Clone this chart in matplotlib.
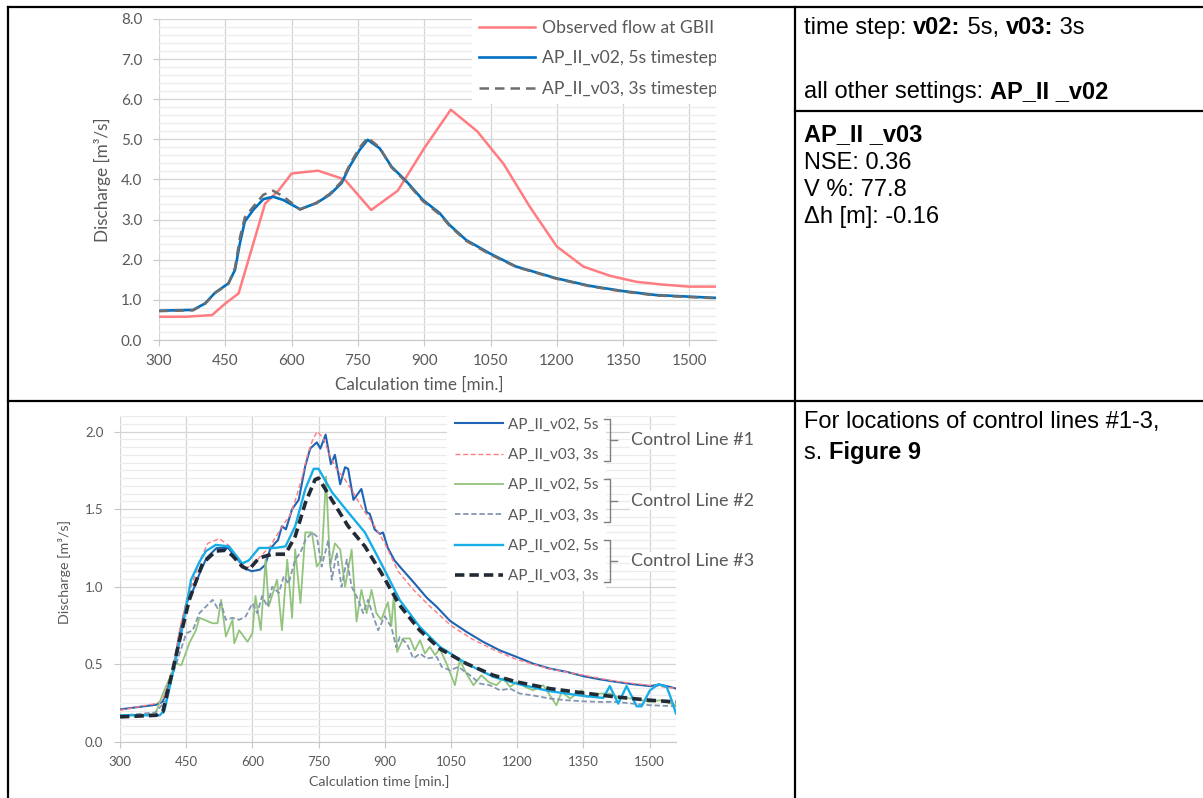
import matplotlib
matplotlib.use("Agg")
import matplotlib.pyplot as plt
from matplotlib.lines import Line2D
from matplotlib.transforms import Bbox, TransformedBbox
from matplotlib.ticker import MultipleLocator, FormatStrFormatter

# ── Data: top chart (discharge at GBII) ──────────────────────────────────────
obs_t = [300, 360, 420, 450, 480, 540, 570, 600, 660, 720, 780, 840, 900, 960,
         1020, 1080, 1140, 1200, 1260, 1320, 1380, 1440, 1500, 1560]
obs_q = [0.58, 0.58, 0.62, 0.91, 1.16, 3.40, 3.72, 4.15, 4.22, 4.00, 3.24, 3.72,
         4.78, 5.74, 5.20, 4.38, 3.30, 2.33, 1.83, 1.60, 1.45, 1.38, 1.33, 1.33]

v02_t = [300, 377, 404, 427, 457, 472, 483, 494, 513, 536, 558, 581, 619, 656,
         686, 713, 731, 754, 772, 799, 826, 860, 897, 935, 957, 995, 1048, 1108,
         1198, 1274, 1349, 1424, 1500, 1560]
v02_q = [0.73, 0.75, 0.91, 1.18, 1.41, 1.75, 2.41, 2.95, 3.24, 3.51, 3.57, 3.49,
         3.26, 3.41, 3.62, 3.91, 4.32, 4.74, 4.99, 4.78, 4.32, 3.95, 3.49, 3.16,
         2.87, 2.49, 2.16, 1.83, 1.54, 1.35, 1.22, 1.12, 1.08, 1.05]
v03_t = v02_t
v03_q = [0.72, 0.74, 0.90, 1.17, 1.40, 1.80, 2.55, 3.05, 3.32, 3.62, 3.72, 3.58,
         3.25, 3.42, 3.64, 3.95, 4.36, 4.80, 5.04, 4.80, 4.30, 3.93, 3.46, 3.13,
         2.85, 2.47, 2.14, 1.82, 1.53, 1.34, 1.21, 1.11, 1.07, 1.04]

# ── Data: bottom chart (control lines) ───────────────────────────────────────
cl1_v02_t = [300, 382, 397, 420, 435, 451, 466, 481, 496, 519, 545, 564, 583, 598,
             617, 629, 640, 651, 658, 667, 676, 690, 705, 720, 731, 746, 754, 766,
             778, 787, 799, 810, 817, 829, 847, 859, 866, 877, 889, 896, 907, 922,
             934, 965, 995, 1018, 1048, 1085, 1123, 1161, 1199, 1236, 1274, 1312,
             1350, 1387, 1425, 1463, 1501, 1523, 1546, 1560]
cl1_v02_q = [0.21, 0.24, 0.26, 0.45, 0.70, 0.895, 0.98, 1.09, 1.185, 1.25, 1.25,
             1.185, 1.12, 1.10, 1.11, 1.14, 1.24, 1.28, 1.30, 1.39, 1.37, 1.50, 1.56,
             1.78, 1.89, 1.93, 1.89, 1.98, 1.79, 1.85, 1.66, 1.77, 1.76, 1.56, 1.63,
             1.48, 1.47, 1.37, 1.34, 1.35, 1.25, 1.17, 1.13, 1.03, 0.93, 0.87, 0.78,
             0.71, 0.645, 0.59, 0.548, 0.505, 0.473, 0.452, 0.424, 0.404, 0.387,
             0.372, 0.36, 0.37, 0.355, 0.344]

cl1_v03_t = [300, 382, 397, 420, 435, 451, 466, 481, 499, 525, 545, 565, 585, 600,
             620, 640, 655, 670, 685, 700, 712, 725, 737, 747, 760, 775, 790, 810,
             830, 850, 875, 900, 930, 965, 1000, 1050, 1100, 1150, 1200, 1275, 1350,
             1425, 1500, 1560]
cl1_v03_q = [0.205, 0.248, 0.27, 0.48, 0.72, 0.92, 1.04, 1.17, 1.28, 1.31, 1.27,
             1.19, 1.12, 1.14, 1.20, 1.26, 1.33, 1.40, 1.46, 1.58, 1.70, 1.85, 1.95,
             2.00, 1.96, 1.85, 1.76, 1.69, 1.60, 1.50, 1.40, 1.28, 1.10, 0.98, 0.88,
             0.75, 0.66, 0.59, 0.53, 0.47, 0.43, 0.39, 0.365, 0.345]

cl2_v02_t = [300, 380, 397, 427, 439, 457, 472, 480, 510, 521, 529, 540, 555, 559,
             570, 589, 600, 607, 619, 630, 637, 656, 667, 679, 690, 697, 709, 720,
             735, 746, 757, 767, 776, 787, 799, 810, 825, 836, 847, 859, 870, 881,
             892, 907, 915, 921, 928, 942, 957, 968, 980, 991, 1002, 1014, 1025,
             1040, 1059, 1070, 1085, 1101, 1119, 1135, 1153, 1168, 1184, 1199, 1218,
             1236, 1259, 1289, 1301, 1320, 1346, 1357, 1387, 1410, 1433, 1463, 1501,
             1523, 1560]
cl2_v02_q = [0.17, 0.18, 0.31, 0.506, 0.495, 0.636, 0.72, 0.80, 0.765, 0.765, 0.916,
             0.68, 0.787, 0.636, 0.72, 0.646, 0.70, 0.94, 0.72, 1.175, 0.873, 1.045,
             0.72, 1.175, 0.80, 1.24, 0.894, 1.35, 1.35, 1.13, 1.175, 1.71, 1.13,
             1.28, 1.24, 1.00, 1.24, 0.776, 0.98, 0.83, 0.98, 0.83, 0.787, 0.90,
             0.75, 0.96, 0.58, 0.667, 0.667, 0.59, 0.656, 0.57, 0.613, 0.56, 0.60,
             0.505, 0.366, 0.527, 0.44, 0.366, 0.43, 0.387, 0.366, 0.41, 0.355,
             0.387, 0.355, 0.333, 0.366, 0.237, 0.323, 0.28, 0.333, 0.29, 0.312,
             0.312, 0.284, 0.28, 0.258, 0.269, 0.237]

cl2_v03_t = [300, 380, 405, 420, 435, 450, 465, 480, 495, 510, 521, 529, 540, 555,
             570, 585, 600, 611, 622, 634, 645, 660, 671, 682, 697, 709, 720, 735,
             746, 757, 772, 780, 791, 802, 814, 825, 840, 851, 862, 874, 885, 900,
             915, 926, 934, 950, 965, 980, 995, 1018, 1029, 1048, 1067, 1082, 1093,
             1116, 1138, 1161, 1184, 1206, 1236, 1274, 1312, 1350, 1387, 1425, 1463,
             1501, 1560]
cl2_v03_q = [0.17, 0.19, 0.27, 0.44, 0.57, 0.70, 0.72, 0.83, 0.873, 0.916, 0.862,
             0.894, 0.787, 0.80, 0.787, 0.81, 0.894, 0.83, 0.94, 0.873, 1.00, 0.96,
             1.067, 1.02, 1.175, 1.22, 1.30, 1.35, 1.325, 1.13, 1.30, 1.045, 1.22,
             1.00, 1.175, 1.00, 0.916, 0.83, 0.916, 0.81, 0.72, 0.81, 0.74, 0.61,
             0.677, 0.634, 0.538, 0.57, 0.538, 0.548, 0.484, 0.462, 0.484, 0.452,
             0.43, 0.376, 0.366, 0.333, 0.344, 0.312, 0.30, 0.28, 0.269, 0.262,
             0.258, 0.258, 0.247, 0.237, 0.23]

cl3_v02_t = [300, 390, 401, 420, 439, 461, 480, 495, 517, 547, 577, 592, 615, 652,
             675, 697, 720, 739, 750, 780, 817, 855, 892, 934, 979, 1025, 1085, 1146,
             1199, 1274, 1350, 1395, 1410, 1429, 1448, 1471, 1482, 1501, 1520, 1539,
             1550, 1560]
cl3_v02_q = [0.172, 0.172, 0.205, 0.45, 0.70, 1.045, 1.16, 1.23, 1.27, 1.26, 1.15,
             1.17, 1.25, 1.25, 1.26, 1.39, 1.63, 1.76, 1.76, 1.61, 1.48, 1.35, 1.15,
             0.914, 0.742, 0.613, 0.505, 0.42, 0.376, 0.327, 0.297, 0.284, 0.36,
             0.247, 0.36, 0.23, 0.23, 0.333, 0.372, 0.355, 0.27, 0.183]

cl3_v03_t = [300, 382, 397, 416, 435, 457, 487, 517, 540, 555, 577, 592, 615, 645,
             675, 697, 720, 742, 750, 780, 817, 855, 892, 934, 979, 1025, 1085, 1146,
             1199, 1274, 1350, 1425, 1501, 1560]
cl3_v03_q = [0.162, 0.172, 0.194, 0.42, 0.657, 0.916, 1.15, 1.23, 1.235, 1.20, 1.13,
             1.11, 1.185, 1.21, 1.21, 1.325, 1.54, 1.69, 1.70, 1.56, 1.39, 1.26, 1.09,
             0.88, 0.72, 0.60, 0.505, 0.43, 0.387, 0.344, 0.316, 0.29, 0.269, 0.258]

X_TICKS = [300, 450, 600, 750, 900, 1050, 1200, 1350, 1500]

# ── Style ────────────────────────────────────────────────────────────────────
W, H = 1203, 798
TXT = "#595959"
plt.rcParams["font.family"] = ["Lato", "DejaVu Sans"]

fig = plt.figure(figsize=(W / 100, H / 100), dpi=100)


def fx(x):
    return x / W


def fy(y):
    return 1 - y / H


def style_axes(ax, ymax, ymajor, yminor, tick_fs):
    for s in ["top", "right", "left"]:
        ax.spines[s].set_visible(False)
    ax.spines["bottom"].set_color("#c8c8c8")
    ax.set_xlim(300, 1560)
    ax.set_ylim(0, ymax)
    ax.set_xticks(X_TICKS)
    ax.yaxis.set_major_locator(MultipleLocator(ymajor))
    ax.yaxis.set_minor_locator(MultipleLocator(yminor))
    ax.yaxis.set_major_formatter(FormatStrFormatter("%.1f"))
    ax.grid(which="major", color="#d4d4d4", lw=0.9)
    ax.grid(which="minor", axis="y", color="#ececec", lw=0.9)
    ax.tick_params(which="major", colors=TXT, color="#c8c8c8", length=4,
                   labelsize=tick_fs)
    ax.tick_params(axis="y", which="major", pad=8)
    ax.tick_params(axis="x", which="major", pad=6)
    ax.tick_params(which="minor", length=0)
    ax.set_axisbelow(True)


# ── Top chart ────────────────────────────────────────────────────────────────
ax1 = fig.add_axes([fx(159), fy(340), (716 - 159) / W, (340 - 19) / H])
style_axes(ax1, 8, 1.0, 0.2, 11)
l_obs, = ax1.plot(obs_t, obs_q, color="#ff7c80", lw=1.8, label="Observed flow at GBII")
l_v02, = ax1.plot(v02_t, v02_q, color="#0070c0", lw=1.9, label="AP_II_v02, 5s timestep")
l_v03, = ax1.plot(v03_t, v03_q, color="#6e6e6e", lw=1.8, ls=(0, (3.8, 2.4)),
                  label="AP_II_v03, 3s timestep")
ax1.set_ylabel("Discharge [m³/s]", fontsize=12.3, color=TXT, va="center")
ax1.yaxis.set_label_coords(-0.102, 0.498)
ax1.set_xlabel("Calculation time [min.]", fontsize=12.3, color=TXT, va="center")
ax1.xaxis.set_label_coords(0.467, -0.14)

leg1 = ax1.legend(handles=[l_obs, l_v02, l_v03], loc="upper left",
                  bbox_to_anchor=(fx(472), fy(13)), bbox_transform=fig.transFigure,
                  frameon=True, fancybox=False, edgecolor="none", facecolor="white",
                  framealpha=1, fontsize=12.6, labelcolor=TXT, handlelength=3.2,
                  handletextpad=0.4, labelspacing=0.82, borderpad=0.4,
                  borderaxespad=0)
# legend text is cut off at the right edge of the chart area, as in the source
clip = TransformedBbox(Bbox([[0, 0], [fx(716), 1]]), fig.transFigure)
for t in leg1.get_texts():
    t.set_clip_on(True)
    t.set_clip_box(clip)

# ── Bottom chart ─────────────────────────────────────────────────────────────
ax2 = fig.add_axes([fx(120), fy(742), (676 - 120) / W, (742 - 416) / H])
style_axes(ax2, 2.1, 0.5, 0.05, 9.5)
h1, = ax2.plot(cl1_v02_t, cl1_v02_q, color="#1f64b4", lw=1.5, label="AP_II_v02, 5s")
h2, = ax2.plot(cl1_v03_t, cl1_v03_q, color="#ff7c80", lw=1.0, ls=(0, (3.5, 2)),
               label="AP_II_v03, 3s")
h3, = ax2.plot(cl2_v02_t, cl2_v02_q, color="#93c47d", lw=1.3, label="AP_II_v02, 5s")
h4, = ax2.plot(cl2_v03_t, cl2_v03_q, color="#8497b0", lw=1.3, ls=(0, (3, 1.5)),
               label="AP_II_v03, 3s")
h5, = ax2.plot(cl3_v02_t, cl3_v02_q, color="#17aee8", lw=1.7, label="AP_II_v02, 5s")
h6, = ax2.plot(cl3_v03_t, cl3_v03_q, color="#222a35", lw=2.6, ls=(0, (2.6, 1.4)),
               label="AP_II_v03, 3s")
ax2.set_ylabel("Discharge [m³/s]", fontsize=10.3, color=TXT, va="center")
ax2.yaxis.set_label_coords(-0.099, 0.52)
ax2.set_xlabel("Calculation time [min.]", fontsize=10.3, color=TXT, va="center")
ax2.xaxis.set_label_coords(0.466, -0.12)

leg2 = ax2.legend(handles=[h1, h2, h3, h4, h5, h6], loc="upper left",
                  bbox_to_anchor=(fx(447), fy(410)), bbox_transform=fig.transFigure,
                  frameon=True, fancybox=False, edgecolor="none", facecolor="white",
                  framealpha=1, fontsize=11, labelcolor=TXT, handlelength=3.15,
                  handletextpad=0.35, labelspacing=1.07, borderpad=0.5,
                  borderaxespad=0)

# ── Table borders ────────────────────────────────────────────────────────────
for (x0, y0, x1, y1) in [(8, 7, 1203, 7), (8, 7, 8, 798), (795, 7, 795, 798),
                         (8, 401, 1203, 401), (795, 111, 1203, 111)]:
    fig.add_artist(Line2D([fx(x0), fx(x1)], [fy(y0), fy(y1)], color="black",
                          lw=1.6, transform=fig.transFigure))

# ── Brackets and control line labels (placed from legend text extents) ──────
fig.canvas.draw()
renderer = fig.canvas.get_renderer()
texts = leg2.get_texts()
xr = max(t.get_window_extent(renderer).x1 for t in texts)
for i, name in enumerate(["Control Line #1", "Control Line #2", "Control Line #3"]):
    b_top = texts[2 * i].get_window_extent(renderer)
    b_bot = texts[2 * i + 1].get_window_extent(renderer)
    yt = H - b_top.y1 + 1
    yb = H - b_bot.y0 - 1
    ym = (yt + yb) / 2
    xv = xr + 11
    fig.add_artist(Line2D([fx(xv - 6), fx(xv), fx(xv), fx(xv - 6)],
                          [fy(yt), fy(yt), fy(yb), fy(yb)], color="#7f7f7f",
                          lw=1.0, transform=fig.transFigure))
    fig.add_artist(Line2D([fx(xv), fx(xv + 7)], [fy(ym), fy(ym)], color="#7f7f7f",
                          lw=1.0, transform=fig.transFigure))
    fig.text(fx(631), fy(ym), name, fontsize=13, color=TXT, va="center", ha="left",
             bbox=dict(facecolor="white", edgecolor="none", pad=1))

# ── Right column text ────────────────────────────────────────────────────────
RFS = 17
RFONT = "Liberation Sans"


def rich_line(x, y, parts):
    probe = fig.text(0, 0, "|", fontsize=RFS, family=RFONT)
    wbar = probe.get_window_extent(renderer).width
    probe.remove()
    for s, bold in parts:
        w = "bold" if bold else "normal"
        fig.text(fx(x), fy(y), s, fontsize=RFS, family=RFONT, fontweight=w,
                 va="baseline", ha="left", color="black")
        m = fig.text(0, 0, s + "|", fontsize=RFS, family=RFONT, fontweight=w)
        x += m.get_window_extent(renderer).width - wbar
        m.remove()


rich_line(804, 34, [("time step: ", False), ("v02:", True), (" 5s, ", False),
                    ("v03:", True), (" 3s", False)])
rich_line(804, 98, [("all other settings: ", False), ("AP_II _v02", True)])
rich_line(804, 141, [("AP_II _v03", True)])
rich_line(804, 169, [("NSE: 0.36", False)])
rich_line(804, 196, [("V %: 77.8", False)])
rich_line(804, 223, [("Δh [m]: -0.16", False)])
rich_line(804, 428, [("For locations of control lines #1-3,", False)])
rich_line(804, 459, [("s. ", False), ("Figure 9", True)])

fig.savefig("out.png", dpi=100)
